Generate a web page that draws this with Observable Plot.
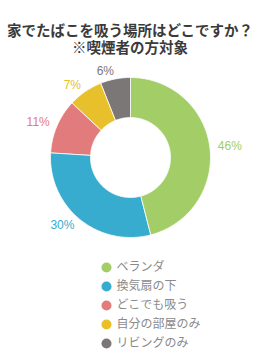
<!DOCTYPE html>
<html>
<head>
<meta charset="utf-8">
<script src="https://cdn.jsdelivr.net/npm/d3@7"></script>
<script src="https://cdn.jsdelivr.net/npm/@observablehq/plot@0.6"></script>
<style>
  html, body { margin: 0; padding: 0; background: #fff; width: 260px; height: 360px; overflow: hidden; }
  #title { font-family: "Noto Sans CJK JP", sans-serif; font-weight: bold; font-size: 14.5px; color: #3a3a3a; text-align: center; padding-top: 21px; height: 34px; white-space: nowrap; }
  #title div { height: 17px; line-height: 17px; }
  svg { display: block; }
</style>
</head>
<body>
<div id="title"><div>家でたばこを吸う場所はどこですか？</div><div>※喫煙者の方対象</div></div>
<div id="chart"></div>
<div id="legend"></div>
<script>
const categories = ["ベランダ", "換気扇の下", "どこでも吸う", "自分の部屋のみ", "リビングのみ"];
const values = [46, 30, 11, 7, 6];
const colors = ["#a2cd67", "#38acce", "#e27b7b", "#e8c02b", "#7b7777"];
const valueLabels = ["46%", "30%", "11%", "7%", "6%"];

const total = d3.sum(values);
const innerR = 0.5, outerR = 1, labelR = 1.1;
const slices = [];
const labels = [];
let acc = 0;
categories.forEach((c, i) => {
  const a0 = acc / total * 2 * Math.PI;
  acc += values[i];
  const a1 = acc / total * 2 * Math.PI;
  const n = Math.max(2, Math.ceil((a1 - a0) / (Math.PI / 180)));
  for (let k = 0; k <= n; k++) {
    const a = a0 + (a1 - a0) * k / n;
    slices.push({cat: c, x: outerR * Math.sin(a), y: outerR * Math.cos(a)});
  }
  for (let k = n; k >= 0; k--) {
    const a = a0 + (a1 - a0) * k / n;
    slices.push({cat: c, x: innerR * Math.sin(a), y: innerR * Math.cos(a)});
  }
  const am = (a0 + a1) / 2;
  labels.push({cat: c, text: valueLabels[i], x: labelR * Math.sin(am), y: labelR * Math.cos(am)});
});

const color = {domain: categories, range: colors};

const chart = Plot.plot({
  width: 260, height: 195, margin: 0,
  x: {domain: [-1.625, 1.625], axis: null},
  y: {domain: [-1.1625, 1.275], axis: null},
  color,
  style: {fontFamily: "'Liberation Sans', Arial, sans-serif", background: "transparent"},
  marks: [
    Plot.line(slices, {x: "x", y: "y", z: "cat", fill: "cat", stroke: "white", strokeWidth: 0.8, curve: "linear-closed"}),
    Plot.text(labels.filter(d => d.x >= 0), {x: "x", y: "y", text: "text", fill: "cat", textAnchor: "start", fontSize: 12}),
    Plot.text(labels.filter(d => d.x < 0), {x: "x", y: "y", text: "text", fill: "cat", textAnchor: "end", fontSize: 12})
  ]
});
document.getElementById("chart").appendChild(chart);

const legend = Plot.plot({
  width: 260, height: 110, margin: 0,
  y: {type: "point", domain: categories, range: [17, 93], padding: 0, axis: null},
  color,
  style: {fontFamily: "'Noto Sans CJK JP', sans-serif", background: "transparent"},
  marks: [
    Plot.dot(categories, {y: d => d, fill: d => d, r: 5, frameAnchor: "left", dx: 106}),
    Plot.text(categories, {y: d => d, text: d => d, frameAnchor: "left", dx: 116, textAnchor: "start", fill: "#8a8a8a", fontSize: 12})
  ]
});
document.getElementById("legend").appendChild(legend);
</script>
</body>
</html>
